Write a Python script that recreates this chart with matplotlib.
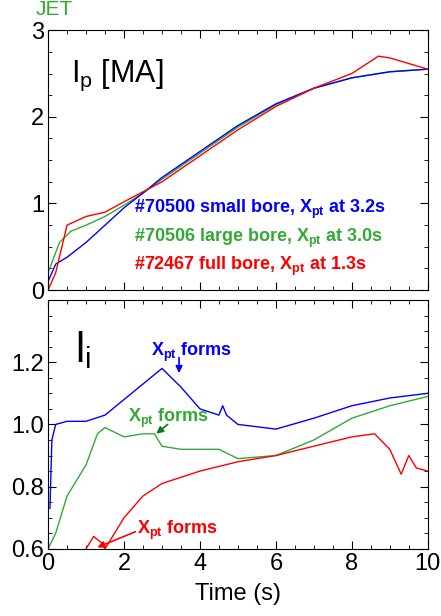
import matplotlib
matplotlib.use("Agg")
from matplotlib import pyplot as plt
from matplotlib.ticker import AutoMinorLocator

plt.rcParams['font.family'] = ['Liberation Sans', 'DejaVu Sans']

# plasma current Ip [MA]
t_ip_b = [0, 0.2, 0.5, 1, 1.5, 2, 2.5, 3, 4, 5, 6, 7, 8, 9, 10]
ip_b = [0.1, 0.3, 0.38, 0.55, 0.75, 0.95, 1.12, 1.3, 1.6, 1.9, 2.15, 2.33, 2.45, 2.52, 2.55]
t_ip_g = [0, 0.3, 0.6, 1, 1.5, 2, 2.5, 3, 4, 5, 6, 7, 8, 9, 10]
ip_g = [0.2, 0.55, 0.68, 0.75, 0.85, 0.98, 1.12, 1.28, 1.58, 1.88, 2.14, 2.33, 2.45, 2.52, 2.55]
t_ip_r = [0, 0.2, 0.5, 1, 1.5, 2, 3, 4, 5, 6, 7, 8, 8.7, 9, 10]
ip_r = [0.0, 0.2, 0.75, 0.85, 0.9, 1.02, 1.25, 1.55, 1.85, 2.12, 2.33, 2.5, 2.7, 2.68, 2.55]

# internal inductance li
t_li_b = [0.05, 0.1, 0.2, 0.5, 1, 1.5, 2, 2.5, 3, 3.5, 4, 4.5, 4.6, 4.7, 5, 6, 7, 8, 9, 10]
li_b = [0.73, 0.95, 1.0, 1.01, 1.01, 1.03, 1.08, 1.13, 1.18, 1.12, 1.05, 1.03, 1.06, 1.03, 1.0, 0.985, 1.02, 1.06, 1.085, 1.1]
t_li_g = [0, 0.2, 0.5, 1, 1.3, 1.5, 2, 2.5, 2.8, 3, 3.5, 4, 4.5, 5, 6, 7, 8, 9, 10]
li_g = [0.6, 0.65, 0.77, 0.87, 0.97, 0.99, 0.96, 0.97, 0.97, 0.93, 0.92, 0.92, 0.92, 0.89, 0.9, 0.95, 1.02, 1.06, 1.09]
t_li_r = [1, 1.2, 1.4, 1.5, 2, 2.5, 3, 4, 5, 6, 7, 8, 8.6, 9, 9.3, 9.5, 9.7, 10]
li_r = [0.6, 0.64, 0.62, 0.6, 0.7, 0.77, 0.81, 0.85, 0.88, 0.9, 0.93, 0.96, 0.97, 0.92, 0.84, 0.9, 0.86, 0.85]

blue = "#0000ff"
green = "#33aa33"
red = "#ff0000"

fig = plt.figure(figsize=(4.41, 6.16), dpi=100)
ax1 = fig.add_axes([0.109, 0.529, 0.861, 0.422])
ax2 = fig.add_axes([0.109, 0.109, 0.861, 0.404])

for ax in (ax1, ax2):
    ax.set_xlim(0, 10)
    ax.xaxis.set_minor_locator(AutoMinorLocator(4))
    ax.yaxis.set_minor_locator(AutoMinorLocator(4))
    ax.tick_params(which='both', direction='in', top=True, right=True, labelsize=17, pad=3)
    ax.tick_params(which='major', length=6)
    ax.tick_params(which='minor', length=3)

ax1.plot(t_ip_g, ip_g, color=green, lw=1)
ax1.plot(t_ip_b, ip_b, color=blue, lw=1)
ax1.plot(t_ip_r, ip_r, color=red, lw=1)
ax1.set_ylim(0, 3)
ax1.set_yticks([0, 1, 2, 3])
ax1.set_xticks([0, 2, 4, 6, 8, 10])
ax1.tick_params(labelbottom=False)
ax1.text(0.06, 0.8, r"I$_\mathregular{p}$ [MA]", transform=ax1.transAxes, fontsize=22)
ax1.text(0.225, 0.31, r"#70500 small bore, X$_\mathregular{pt}$ at 3.2s", color=blue, transform=ax1.transAxes,
         fontsize=13, fontweight='bold', va='center')
ax1.text(0.225, 0.20, r"#70506 large bore, X$_\mathregular{pt}$ at 3.0s", color=green, transform=ax1.transAxes,
         fontsize=13, fontweight='bold', va='center')
ax1.text(0.225, 0.09, r"#72467 full bore, X$_\mathregular{pt}$ at 1.3s", color=red, transform=ax1.transAxes,
         fontsize=13, fontweight='bold', va='center')
fig.text(0.08, 0.985, "JET", color=green, fontsize=15, va='center')

ax2.plot(t_li_b, li_b, color=blue, lw=1)
ax2.plot(t_li_g, li_g, color=green, lw=1)
ax2.plot(t_li_r, li_r, color=red, lw=1)
ax2.set_ylim(0.6, 1.4)
ax2.set_yticks([0.6, 0.8, 1.0, 1.2])
ax2.set_xticks([0, 2, 4, 6, 8, 10])
ax2.set_xlabel("Time (s)", fontsize=17, labelpad=6)
ax2.text(0.07, 0.75, r"l$_\mathregular{i}$", transform=ax2.transAxes, fontsize=30)

ax2.text(2.72, 1.23, r"X$_\mathregular{pt}$ forms", color=blue, fontsize=13, fontweight='bold', va='center')
ax2.annotate("", xy=(3.45, 1.165), xytext=(3.45, 1.215),
             arrowprops=dict(arrowstyle='-|>', color=blue, lw=1.2, shrinkA=0, shrinkB=0))
ax2.text(2.1, 1.02, r"X$_\mathregular{pt}$ forms", color=green, fontsize=13, fontweight='bold', va='center')
ax2.annotate("", xy=(2.85, 0.97), xytext=(3.15, 1.0),
             arrowprops=dict(arrowstyle='-|>', color='#117711', lw=1.2, shrinkA=0, shrinkB=0))
ax2.text(2.34, 0.66, r"X$_\mathregular{pt}$ forms", color=red, fontsize=13, fontweight='bold', va='center')
ax2.annotate("", xy=(1.3, 0.605), xytext=(2.3, 0.655),
             arrowprops=dict(arrowstyle='-|>', color=red, lw=1.2, shrinkA=0, shrinkB=0))

fig.savefig("out.png")
